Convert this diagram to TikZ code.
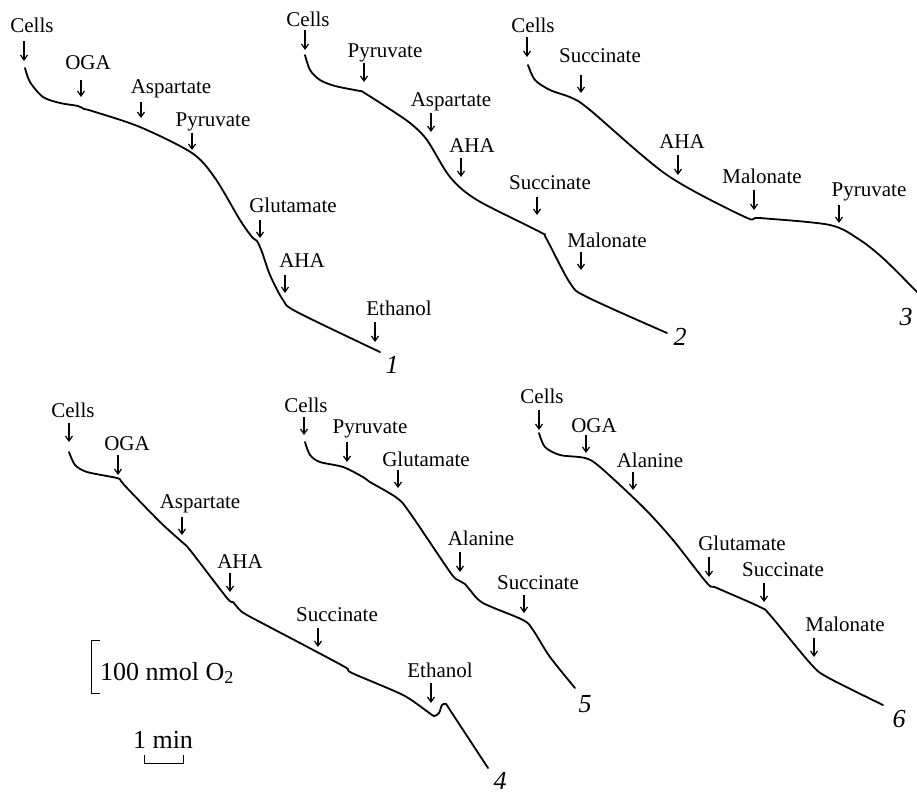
\documentclass[tikz,border=0pt]{standalone}
\usepackage{fontspec}
\setmainfont{Liberation Serif}
\usetikzlibrary{arrows.meta}
\tikzset{
  lab/.style={anchor=base,inner sep=0pt,font=\fontsize{21}{24}\selectfont},
  num/.style={anchor=base,inner sep=0pt,font=\fontsize{26}{30}\selectfont\itshape},
  big/.style={anchor=base west,inner sep=0pt,font=\fontsize{26}{30}\selectfont},
  arr/.style={line width=1.2pt,-{Straight Barb[length=5pt,width=7pt,line width=1.2pt]}},
  trace/.style={line width=1.8pt,line join=round,line cap=round},
  scalebar/.style={line width=1pt}
}
\newcommand\reag[7]{%
  \node[lab] (#1) at (#2,#3) {#4};
  \coordinate (#1t) at (#5,#6);
  \coordinate (#1h) at (#5,#7);
  \draw[arr] (#1t) -- (#1h);}
\begin{document}
\begin{tikzpicture}[x=1pt,y=-1pt]
\useasboundingbox (0,0) rectangle (917,796);
% ---------- curve 1
\draw[trace] plot[smooth,tension=0.5] coordinates {(25,68) (30,82) (43,97) (60,103) (78,106) (84,109) (92,111) (140,127) (192,153) (215,178) (240,220) (252,237) (257,241) (262,252) (270,275) (283,300) (297,312) (380,352)};
\reag{a1}{32}{32}{Cells}{24}{41}{61}
\reag{a2}{88}{69}{OGA}{81}{80}{97}
\reag{a3}{171}{93}{Aspartate}{141}{102}{118}
\reag{a4}{213}{126}{Pyruvate}{192}{133}{150}
\reag{a5}{293}{212}{Glutamate}{260}{220}{238}
\reag{a6}{302}{267}{AHA}{285}{275}{293}
\reag{a7}{399}{315}{Ethanol}{375}{322}{342}
\node[num] (n1) at (392,373) {1};
% ---------- curve 2
\draw[trace] plot[smooth,tension=0.5] coordinates {(305,55) (310,70) (320,80) (335,86) (360,91) (363,92) (385,106) (410,123) (427,140) (450,177) (477,200) (540,232) (546,238) (570,283) (587,297) (667,333)};
\reag{b1}{308}{26}{Cells}{305}{30}{50}
\reag{b2}{385}{57}{Pyruvate}{364}{63}{82}
\reag{b3}{451}{106}{Aspartate}{431}{113}{132}
\reag{b4}{472}{152}{AHA}{461}{158}{177}
\reag{b5}{550}{189}{Succinate}{537}{197}{215}
\reag{b6}{607}{247}{Malonate}{581}{252}{270}
\node[num] (n2) at (680,345) {2};
% ---------- curve 3
\draw[trace] plot[smooth,tension=0.5] coordinates {(528,65) (535,80) (550,90) (572,98) (590,110) (667,175) (745,217) (760,218) (830,225) (860,240) (885,260) (917,292)};
\reag{c1}{533}{32}{Cells}{527}{37}{57}
\reag{c2}{600}{62}{Succinate}{581}{75}{93}
\reag{c3}{682}{148}{AHA}{678}{155}{175}
\reag{c4}{762}{183}{Malonate}{754}{190}{210}
\reag{c5}{869}{196}{Pyruvate}{839}{205}{223}
\node[num] (n3) at (906,325) {3};
% ---------- curve 4
\draw[trace] plot[smooth,tension=0.45] coordinates {(69,452) (75,465) (87,472) (117,478) (121,481) (127,488) (160,522) (182,542) (190,550) (227,598) (233,602) (238,608) (247,615) (300,643) (345,667) (352,673) (403,695) (428,712) (434,716) (439,713) (442,705) (446,704) (450,710) (488,768)};
\reag{d1}{73}{417}{Cells}{69}{423}{442}
\reag{d2}{127}{450}{OGA}{118}{455}{475}
\reag{d3}{200}{508}{Aspartate}{182}{517}{535}
\reag{d4}{240}{568}{AHA}{230}{573}{592}
\reag{d5}{337}{621}{Succinate}{318}{628}{647}
\reag{d6}{440}{677}{Ethanol}{431}{683}{703}
\node[num] (n4) at (500,789) {4};
% ---------- curve 5
\draw[trace] plot[smooth,tension=0.5] coordinates {(305,442) (310,455) (320,462) (343,467) (363,477) (370,482) (397,498) (410,513) (450,572) (458,580) (465,584) (470,590) (483,603) (523,620) (533,630) (550,657) (575,688)};
\reag{e1}{306}{412}{Cells}{304}{417}{435}
\reag{e2}{370}{433}{Pyruvate}{347}{442}{462}
\reag{e3}{426}{466}{Glutamate}{398}{470}{488}
\reag{e4}{481}{545}{Alanine}{460}{552}{572}
\reag{e5}{538}{589}{Succinate}{524}{595}{613}
\node[num] (n5) at (585,712) {5};
% ---------- curve 6
\draw[trace] plot[smooth,tension=0.5] coordinates {(539,433) (545,447) (560,455) (585,458) (600,467) (643,507) (673,540) (707,583) (717,588) (760,607) (770,615) (810,663) (827,677) (883,705)};
\reag{f1}{542}{403}{Cells}{539}{410}{430}
\reag{f2}{594}{432}{OGA}{586}{435}{453}
\reag{f3}{650}{467}{Alanine}{633}{472}{490}
\reag{f4}{742}{550}{Glutamate}{709}{557}{577}
\reag{f5}{783}{576}{Succinate}{764}{583}{602}
\reag{f6}{845}{631}{Malonate}{814}{638}{657}
\node[num] (n6) at (899,727) {6};
% ---------- scale bars
\coordinate (v1) at (100,640);
\coordinate (v2) at (91,640);
\coordinate (v3) at (91,693);
\coordinate (v4) at (100,693);
\draw[scalebar] (v1) -- (v2) -- (v3) -- (v4);
\node[big] (oxy) at (100,680) {100 nmol O\textsubscript{2}};
\node[lab,font=\fontsize{26}{30}\selectfont] (tmin) at (163,748) {1 min};
\coordinate (h1) at (144,755);
\coordinate (h2) at (144,763);
\coordinate (h3) at (183,763);
\coordinate (h4) at (183,755);
\draw[scalebar] (h1) -- (h2) -- (h3) -- (h4);
\end{tikzpicture}
\end{document}
